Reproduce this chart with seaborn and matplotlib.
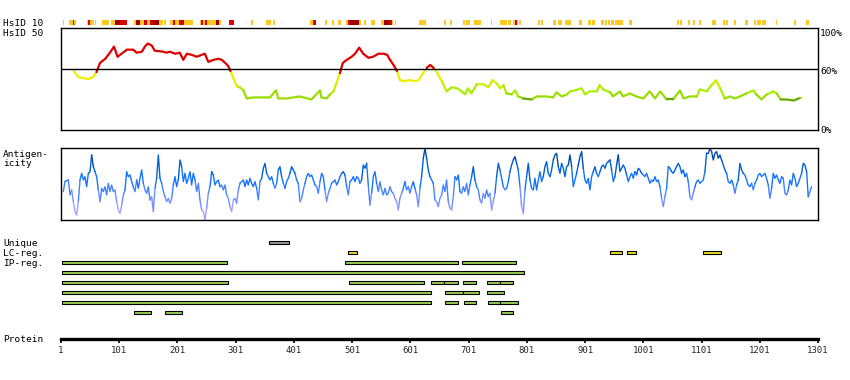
import numpy as np
import pandas as pd
import matplotlib
matplotlib.use("Agg")
import matplotlib.pyplot as plt
import seaborn as sns

# ------------------------------------------------------------------
# data
# ------------------------------------------------------------------
protein_len = 1301
tick_pos = list(range(1, 1302, 100))

# HsID 10 strip: start, end residue and level (1 orange, 2 red, 3 dark red)
hs10_start = [4, 6, 15, 21, 23, 46, 48, 50, 59, 71, 87, 93, 102, 126, 129, 136, 144, 148, 153, 159,
              169, 178, 188, 193, 196, 203, 212, 239, 242, 244, 248, 251, 267, 273, 290, 327, 353, 365,
              429, 434, 454, 466, 477, 490, 494, 497, 512, 513, 521, 533, 551, 555, 564, 570, 574, 616,
              658, 669, 691, 697, 710, 739, 755, 769, 777, 780, 784, 787, 820, 825, 846, 854, 867, 890,
              906, 913, 929, 935, 940, 946, 953, 977, 1059, 1064, 1078, 1087, 1096, 1119, 1138, 1143,
              1157, 1176, 1191, 1197, 1205, 1229, 1259, 1281]
hs10_end = [6, 7, 21, 23, 26, 48, 50, 58, 61, 83, 93, 102, 115, 129, 136, 144, 148, 153, 159, 169,
            176, 181, 193, 196, 203, 212, 228, 242, 244, 248, 251, 267, 273, 275, 298, 330, 361, 369,
            434, 439, 458, 469, 481, 494, 497, 512, 513, 516, 525, 540, 555, 564, 570, 572, 576, 627,
            662, 672, 695, 703, 722, 742, 767, 773, 780, 784, 785, 791, 824, 829, 851, 862, 876, 895,
            911, 918, 933, 938, 943, 950, 966, 982, 1063, 1067, 1081, 1090, 1100, 1126, 1141, 1147,
            1160, 1181, 1195, 1203, 1212, 1231, 1263, 1285]
hs10_level = [1, 2, 1, 2, 1, 1, 2, 1, 1, 1, 1, 3, 2, 1, 3, 1, 2, 1, 2, 3,
              1, 1, 1, 2, 1, 2, 1, 1, 2, 1, 2, 1, 3, 1, 2, 1, 1, 1,
              1, 2, 1, 1, 1, 1, 2, 3, 2, 1, 1, 1, 1, 3, 2, 1, 1, 1,
              1, 1, 1, 1, 1, 1, 1, 1, 1, 2, 1, 1, 1, 1, 1, 1, 1, 1,
              1, 1, 1, 1, 1, 1, 1, 1, 1, 1, 1, 1, 1, 1, 1, 1,
              1, 1, 1, 1, 1, 1, 1, 1]

# HsID 50 identity (%)
id_res = [23, 31, 39, 48, 56, 62, 68, 77, 85, 92, 98, 105, 114, 125, 131, 140, 145, 150, 157, 162,
          177, 182, 188, 197, 205, 211, 217, 225, 234, 243, 248, 254, 263, 271, 277, 283, 288, 292,
          297, 303, 308, 314, 320, 331, 348, 360, 370, 374, 388, 400, 411, 431, 446, 448, 457, 463,
          469, 474, 480, 485, 492, 500, 506, 513, 520, 529, 537, 546, 555, 561, 566, 572, 578, 583,
          589, 600, 609, 615, 623, 629, 635, 641, 646, 655, 663, 672, 681, 689, 695, 700, 706, 715,
          726, 735, 742, 749, 755, 761, 766, 775, 781, 786, 795, 809, 818, 835, 846, 852, 861, 870,
          875, 884, 895, 901, 909, 921, 926, 932, 944, 949, 961, 966, 978, 989, 1001, 1012, 1021,
          1030, 1041, 1052, 1064, 1070, 1081, 1093, 1098, 1110, 1118, 1126, 1133, 1141, 1150, 1158,
          1167, 1178, 1190, 1195, 1204, 1213, 1224, 1230, 1237, 1247, 1259, 1268, 1271]
id_val = [58, 52, 51, 50, 52, 57, 66, 70, 76, 82, 72, 75, 79, 79, 76, 77, 82, 85, 83, 78,
          77, 76, 77, 75, 76, 69, 75, 74, 72, 74, 75, 67, 69, 70, 69, 66, 63, 58,
          51, 43, 42, 39, 31, 32, 32, 32, 39, 31, 31, 32, 33, 30, 39, 32, 31, 35,
          38, 46, 56, 66, 69, 72, 75, 81, 75, 71, 72, 75, 75, 74, 69, 64, 58, 49,
          48, 49, 48, 49, 56, 61, 64, 61, 57, 48, 38, 42, 41, 38, 35, 41, 36, 45,
          45, 42, 49, 46, 41, 44, 36, 35, 39, 33, 31, 30, 33, 33, 32, 37, 33, 35,
          38, 39, 41, 35, 38, 38, 44, 40, 37, 33, 38, 33, 36, 33, 31, 38, 31,
          38, 30, 30, 39, 31, 33, 33, 40, 38, 44, 49, 41, 31, 33, 31,
          33, 36, 39, 35, 30, 35, 38, 36, 30, 30, 29, 31, 31]

# antigenicity (arbitrary units, 0 = panel floor)
ag_first = 5
ag_last = 1290
ag_val = [85, 115, 118, 120, 75, 90, 55, 25, 15, 55,
          120, 140, 120, 130, 100, 140, 145, 195, 160, 145,
          130, 90, 55, 95, 85, 100, 75, 110, 85, 105,
          85, 90, 55, 30, 20, 45, 75, 90, 145, 130,
          135, 115, 100, 85, 120, 95, 125, 150, 110, 90,
          80, 100, 60, 70, 25, 95, 125, 195, 125, 110,
          85, 70, 55, 65, 50, 65, 105, 130, 100, 120,
          180, 160, 115, 140, 110, 125, 145, 105, 140, 120,
          85, 110, 60, 30, 25, 0, 35, 80, 100, 145,
          135, 105, 115, 120, 100, 105, 90, 105, 75, 65,
          40, 25, 60, 65, 50, 90, 110, 115, 120, 100,
          120, 105, 125, 110, 100, 115, 95, 60, 115, 125,
          155, 170, 140, 130, 120, 130, 110, 95, 110, 150,
          160, 130, 110, 95, 115, 125, 140, 160, 150, 140,
          120, 110, 55, 65, 90, 110, 130, 140, 130, 135,
          120, 105, 100, 80, 115, 140, 130, 90, 55, 80,
          95, 110, 115, 120, 105, 115, 130, 140, 145, 135,
          100, 75, 115, 120, 130, 115, 130, 125, 110, 120,
          165, 155, 170, 105, 45, 80, 130, 145, 110, 85,
          115, 90, 75, 95, 75, 80, 100, 85, 80, 65,
          55, 30, 65, 80, 95, 115, 90, 100, 80, 100,
          115, 95, 75, 40, 95, 130, 185, 215, 185, 150,
          130, 120, 110, 60, 55, 40, 65, 75, 105, 85,
          120, 55, 35, 30, 70, 130, 120, 135, 85, 80,
          100, 85, 110, 75, 105, 130, 160, 120, 100, 90,
          60, 50, 80, 65, 90, 70, 80, 30, 55, 80,
          130, 170, 150, 125, 100, 90, 95, 115, 145, 165,
          180, 190, 170, 150, 100, 40, 20, 90, 130, 170,
          120, 95, 90, 125, 90, 120, 145, 115, 130, 160,
          175, 140, 130, 150, 180, 195, 200, 160, 140, 170,
          155, 130, 160, 165, 195, 160, 100, 120, 140, 165,
          190, 205, 155, 120, 110, 125, 90, 130, 145, 160,
          140, 130, 145, 160, 165, 155, 170, 175, 180, 150,
          115, 130, 165, 195, 145, 155, 165, 155, 135, 115,
          130, 140, 125, 145, 135, 155, 150, 140, 135, 130,
          140, 125, 110, 120, 115, 130, 115, 120, 100, 65,
          40, 70, 95, 160, 155, 145, 140, 150, 160, 170,
          160, 140, 150, 130, 140, 115, 70, 60, 80, 100,
          115, 120, 110, 115, 120, 145, 200, 200, 215, 205,
          180, 200, 205, 185, 195, 180, 165, 150, 140, 115,
          110, 120, 105, 80, 105, 120, 170, 150, 140, 135,
          120, 105, 100, 110, 90, 110, 120, 135, 140, 130,
          135, 140, 125, 105, 65, 95, 140, 125, 135, 120,
          110, 130, 125, 80, 75, 90, 120, 105, 140, 125,
          100, 110, 125, 140, 170, 165, 145, 70, 85, 100]

# feature tracks: row (0 Unique, 1 LC-reg., 2.. IP-reg.), start, end, kind
feat_row = [0, 1, 1, 1, 1,
            2, 2, 2,
            3,
            4, 4, 4, 4, 4, 4, 4,
            5, 5, 5, 5,
            6, 6, 6, 6, 6,
            7, 7, 7]
feat_start = [359, 494, 943, 973, 1104,
              2, 488, 690,
              2,
              2, 496, 637, 659, 692, 733, 755,
              2, 661, 692, 733,
              2, 661, 693, 734, 755,
              127, 180, 757]
feat_end = [392, 509, 964, 988, 1134,
            286, 682, 782,
            796,
            287, 624, 659, 682, 713, 755, 778,
            636, 692, 718, 761,
            636, 682, 713, 755, 785,
            155, 208, 778]
feat_kind = ["unique", "lc", "lc", "lc", "lc"] + ["ip"] * 23

row_labels = ["Unique", "LC-reg.", "IP-reg."]

# ------------------------------------------------------------------
# style
# ------------------------------------------------------------------
sns.set_theme(style="white")
plt.rcParams["font.family"] = ["DejaVu Sans Mono"]
plt.rcParams["axes.edgecolor"] = "black"

W, H = 850, 380


def box(x0, y0, x1, y1):
    # pixel box -> figure fraction
    return [x0 / W, 1 - y1 / H, (x1 - x0) / W, (y1 - y0) / H]


def runs_frame(x, y, bands):
    # split a polyline into same-colour runs so seaborn draws each as one unit
    rows, seg, start = [], 0, 0
    for i in range(1, len(bands) + 1):
        if i == len(bands) or bands[i] != bands[start]:
            for k in range(start, i + 1):
                rows.append((x[k], y[k], bands[start], seg))
            seg += 1
            start = i
    return pd.DataFrame(rows, columns=["res", "val", "band", "seg"])


def id_band(v):
    if v >= 60:
        return "red"
    if v >= 47:
        return "yellow"
    if v >= 42:
        return "lime1"
    if v >= 36:
        return "lime2"
    if v >= 31:
        return "green1"
    return "green2"


id_pal = {"red": "#dd0000", "yellow": "#eeee00", "lime1": "#ccee00",
          "lime2": "#aaee00", "green1": "#99dd00", "green2": "#66aa00"}


def ag_band(v):
    if v >= 175:
        return "b1"
    if v >= 140:
        return "b2"
    if v >= 105:
        return "b3"
    if v >= 75:
        return "b4"
    if v >= 45:
        return "b5"
    return "b6"


ag_pal = {"b1": "#0048ae", "b2": "#0060d8", "b3": "#1573ff",
          "b4": "#4584ff", "b5": "#7390ff", "b6": "#a3a0ff"}

fig = plt.figure(figsize=(8.5, 3.8), dpi=100)

# ---- HsID 10 strip ----
ax0 = fig.add_axes(box(61, 19.7, 818, 24.7))
lvl_col = {1: "#ffc81e", 2: "#dd0000", 3: "#a00000"}
s = np.array(hs10_start)
e = np.array(hs10_end)
ax0.barh([0] * len(s), e - s, left=s, height=1,
         color=[lvl_col[l] for l in hs10_level], linewidth=0)
ax0.set_xlim(1, protein_len)
ax0.set_ylim(-0.5, 0.5)
ax0.axis("off")

# ---- HsID 50 identity ----
ax1 = fig.add_axes(box(61, 28.3, 818, 130))
mid = [(id_val[i] + id_val[i + 1]) / 2 for i in range(len(id_val) - 1)]
df_id = runs_frame(id_res, id_val, [id_band(v) for v in mid])
sns.lineplot(data=df_id, x="res", y="val", hue="band", units="seg", estimator=None,
             palette=id_pal, sort=False, legend=False, linewidth=1.6, ax=ax1)
ax1.axhline(60, color="black", lw=1)
ax1.set_xlim(1, protein_len)
ax1.set_ylim(0, 100)
ax1.set_xticks([])
ax1.set_yticks([])
ax1.set_xlabel("")
ax1.set_ylabel("")
for sp in ax1.spines.values():
    sp.set_linewidth(1)
    sp.set_color("black")

# ---- antigenicity ----
ax2 = fig.add_axes(box(61, 148.3, 818, 220))
ag_res = np.linspace(ag_first, ag_last, len(ag_val))
mid = [(ag_val[i] + ag_val[i + 1]) / 2 for i in range(len(ag_val) - 1)]
df_ag = runs_frame(ag_res, ag_val, [ag_band(v) for v in mid])
sns.lineplot(data=df_ag, x="res", y="val", hue="band", units="seg", estimator=None,
             palette=ag_pal, sort=False, legend=False, linewidth=1.0, ax=ax2)
ax2.set_xlim(1, protein_len)
ax2.set_ylim(0, 215)
ax2.set_xticks([])
ax2.set_yticks([])
ax2.set_xlabel("")
ax2.set_ylabel("")
for sp in ax2.spines.values():
    sp.set_linewidth(1)
    sp.set_color("black")

# ---- feature tracks ----
ax3 = fig.add_axes(box(61, 235, 818, 320))
kind_col = {"unique": "#999999", "lc": "#eedd22", "ip": "#99cc55"}
fs = np.array(feat_start)
fe = np.array(feat_end)
ax3.barh(feat_row, fe - fs, left=fs, height=0.3,
         color=[kind_col[k] for k in feat_kind], edgecolor="black", linewidth=0.8)
ax3.set_xlim(1, protein_len)
ax3.set_ylim(7.76, -0.74)
ax3.axis("off")

# ---- protein axis ----
ax4 = fig.add_axes(box(61, 330, 818, 339))
ax4.set_xlim(1, protein_len)
ax4.set_yticks([])
for side in ["top", "left", "right"]:
    ax4.spines[side].set_visible(False)
ax4.spines["bottom"].set_linewidth(2.4)
ax4.spines["bottom"].set_color("black")
ax4.set_xticks(tick_pos)
ax4.set_xticklabels([str(t) for t in tick_pos], fontsize=6.5)
ax4.tick_params(axis="x", bottom=True, direction="out", length=2.8, width=1.2,
                color="black", pad=2)
ax4.set_facecolor("none")

# ---- text labels ----
def ftxt(x, y, t, **kw):
    fig.text(x / W, 1 - y / H, t, fontsize=6.8, color="black", va="baseline", **kw)


ftxt(3, 26, "HsID 10")
ftxt(3, 36, "HsID 50")
ftxt(3, 156.7, "Antigen-")
ftxt(3, 165.5, "icity")
ftxt(3, 246, row_labels[0])
ftxt(3, 256, row_labels[1])
ftxt(3, 266, row_labels[2])
ftxt(3, 342.5, "Protein")
ftxt(820, 36, "100%")
ftxt(820, 74, "60%")
ftxt(820, 133.3, "0%")

fig.savefig("out.png", dpi=100)
